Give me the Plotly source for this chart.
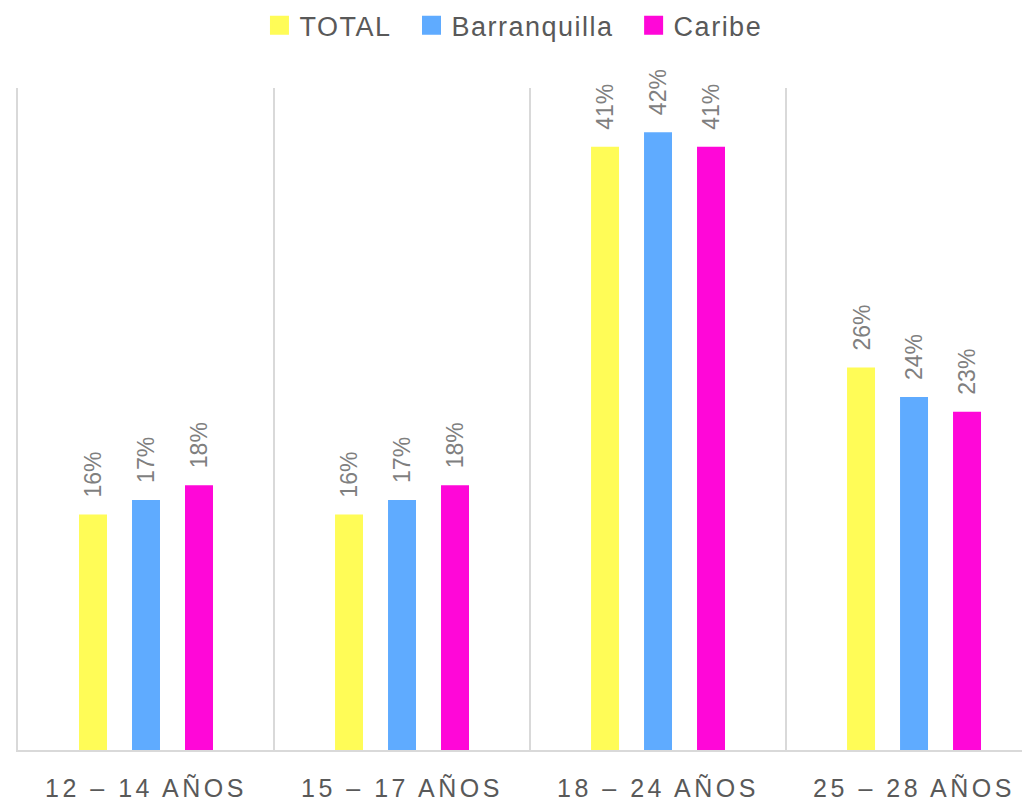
import plotly.graph_objects as go

categories = ["12 – 14 AÑOS", "15 – 17 AÑOS", "18 – 24 AÑOS", "25 – 28 AÑOS"]
series_names = ["TOTAL", "Barranquilla", "Caribe"]
total = [16, 16, 41, 26]
barranquilla = [17, 17, 42, 24]
caribe = [18, 18, 41, 23]
colors = ["#FFFC57", "#5FABFF", "#FF07D8"]

values = [total, barranquilla, caribe]

FONT = "Liberation Sans, Arial"

fig = go.Figure()
for name, vals, col in zip(series_names, values, colors):
    fig.add_trace(go.Bar(x=categories, y=vals, name=name, marker_color=col,
                         marker_line_width=0, showlegend=False))
for name, col in zip(series_names, colors):
    fig.add_trace(go.Scatter(x=[None], y=[None], mode="markers",
                             name=f'<span style="letter-spacing:1.5px">{name}</span>\u00a0\u00a0',
                             marker=dict(symbol="square", size=19, color=col,
                                         line=dict(color=col, width=3))))

annotations = []
for i, vals in enumerate(values):
    for cat, v in zip(categories, vals):
        annotations.append(dict(
            x=cat, y=v, xref="x", yref="y", text=f"{v}%", showarrow=False,
            textangle=-90, yanchor="bottom", xanchor="center",
            xshift=(i - 1) * 53, yshift=15,
            font=dict(family=FONT, size=23, color="#7F7F7F")))

ticktext = [f'<span style="letter-spacing:3.5px">{c}</span>' for c in categories]

# page body has an 8px margin, so the figure is sized/offset to compensate
fig.update_layout(
    width=1022, height=795,
    margin=dict(l=10, r=0, t=80, b=53, autoexpand=False),
    plot_bgcolor="white", paper_bgcolor="white",
    barmode="group", bargap=0.379, bargroupgap=0.472,
    annotations=annotations,
    legend=dict(orientation="h", x=0.497, xanchor="center", y=1.094, yref="paper",
                yanchor="middle", font=dict(family=FONT, size=27, color="#595959"),
                itemsizing="trace", traceorder="normal"),
    xaxis=dict(type="category", range=[-0.5, 3.453], tickson="boundaries",
               tickvals=categories, ticktext=ticktext,
               showgrid=True, gridcolor="#D9D9D9", gridwidth=1.5,
               showline=True, linecolor="#D9D9D9", linewidth=2,
               ticks="", ticklabelstandoff=15,
               tickfont=dict(family=FONT, size=25, color="#595959")),
    yaxis=dict(range=[0, 45], showgrid=False, showticklabels=False, zeroline=False,
               showline=True, linecolor="#D9D9D9", linewidth=1.5, ticks=""),
)

fig.write_html("out.html")
